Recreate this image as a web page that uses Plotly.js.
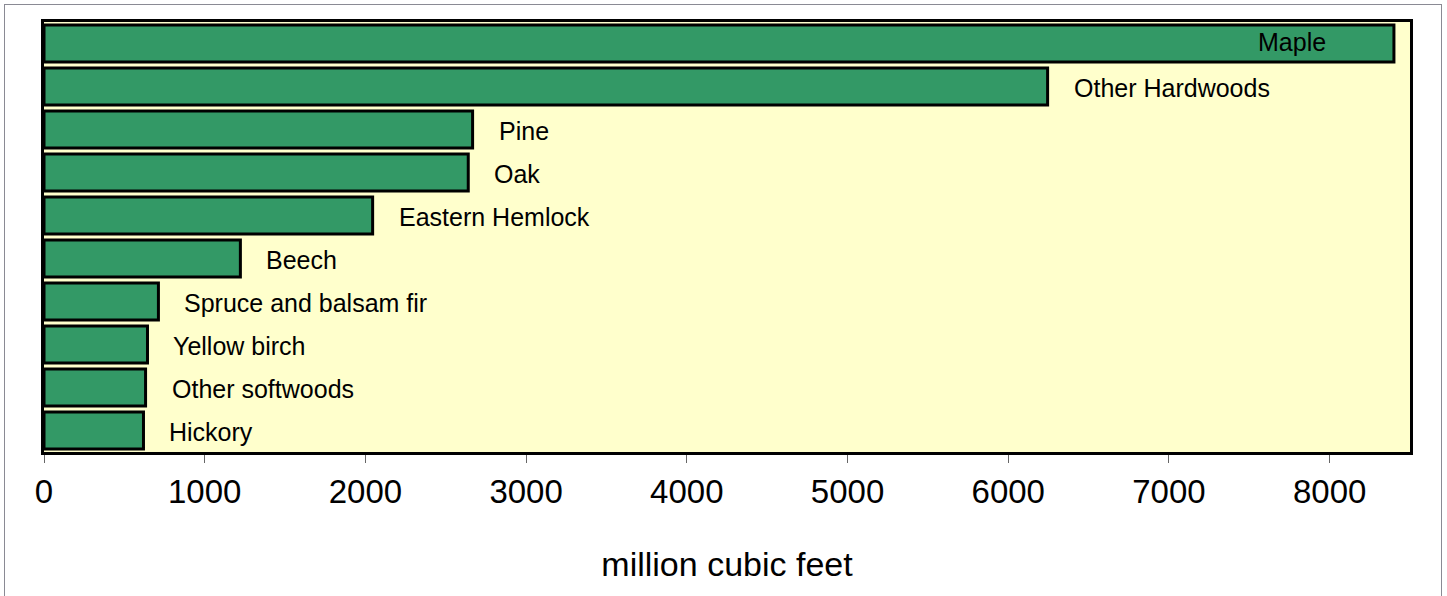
<!DOCTYPE html>
<html>
<head>
<meta charset="utf-8">
<script src="https://cdn.plot.ly/plotly-3.0.1.min.js"></script>
<style>
  html, body { margin: 0; padding: 0; background: #ffffff; }
  #wrap { position: relative; width: 1447px; height: 596px; }
  #chart { width: 1447px; height: 596px; }
  #frame { position: absolute; left: 4px; top: 4px; width: 1438px; height: 600px;
           border: 1px solid #8a8a94; pointer-events: none; box-sizing: border-box; }
</style>
</head>
<body>
<div id="wrap">
  <div id="chart"></div>
  <div id="frame"></div>
</div>
<script>
// Data (top to bottom)
const species = ["Maple", "Other Hardwoods", "Pine", "Oak", "Eastern Hemlock",
                 "Beech", "Spruce and balsam fir", "Yellow birch", "Other softwoods", "Hickory"];
const volume = [8400, 6245, 2667, 2640, 2045, 1222, 712, 644, 632, 619];
const insideLabels = ["Maple"];
const xTicks = [0, 1000, 2000, 3000, 4000, 5000, 6000, 7000, 8000];
const xTitle = "million cubic feet";

const FONT = "Arial, 'Liberation Sans', sans-serif";

const trace = {
  type: "bar",
  orientation: "h",
  y: species,
  x: volume,
  marker: { color: "#339966", line: { color: "#000000", width: 3 } },
  hoverinfo: "x+y"
};

const annotations = species.map((s, i) => {
  const inside = insideLabels.includes(s);
  return {
    x: volume[i], y: s, xref: "x", yref: "y",
    text: s, showarrow: false,
    xanchor: inside ? "right" : "left",
    yanchor: "middle",
    xshift: inside ? -66 : 24,
    yshift: inside ? 2 : -1,
    font: { family: FONT, size: 25, color: "#000000" }
  };
});

const layout = {
  width: 1447, height: 596,
  margin: { l: 44, r: 37, t: 22, b: 144, pad: 0 },
  paper_bgcolor: "#ffffff",
  plot_bgcolor: "#FFFFCC",
  showlegend: false,
  bargap: 0.14,
  font: { family: FONT, color: "#000000" },
  xaxis: {
    range: [0, 8500],
    tickmode: "array",
    tickvals: xTicks,
    ticktext: xTicks.map(String),
    ticks: "outside", ticklen: 8, tickwidth: 1, tickcolor: "#666666",
    tickfont: { family: FONT, size: 33, color: "#000000" },
    showgrid: false, zeroline: false,
    showline: true, linecolor: "#000000", linewidth: 3, mirror: true,
    title: { text: xTitle, font: { family: FONT, size: 34, color: "#000000" }, standoff: 44 }
  },
  yaxis: {
    type: "category",
    autorange: "reversed",
    showticklabels: false, ticks: "",
    showgrid: false, zeroline: false,
    showline: true, linecolor: "#000000", linewidth: 3, mirror: true
  },
  annotations: annotations
};

Plotly.newPlot("chart", [trace], layout, { displayModeBar: false, staticPlot: true });
</script>
</body>
</html>
